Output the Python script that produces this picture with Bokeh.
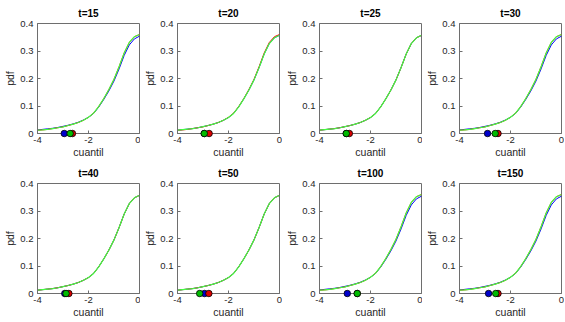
from bokeh.plotting import figure
from bokeh.layouts import gridplot
from bokeh.models import FixedTicker, Range1d
from bokeh.embed import file_html
from bokeh.resources import INLINE

# ---------------- data ----------------
titles = ["t=15", "t=20", "t=25", "t=30", "t=40", "t=50", "t=100", "t=150"]

x_vals = [-4.0, -3.8, -3.6, -3.4, -3.2, -3.0, -2.8, -2.6, -2.4, -2.2, -2.0,
          -1.8, -1.6, -1.4, -1.2, -1.0, -0.8, -0.6, -0.4, -0.2, 0.0]

curve_base = [0.012, 0.014, 0.016, 0.018, 0.021, 0.025, 0.029, 0.034, 0.040, 0.048, 0.058,
              0.073, 0.097, 0.126, 0.158, 0.195, 0.240, 0.289, 0.327, 0.348, 0.357]
curve_hi = [0.012, 0.013, 0.015, 0.018, 0.021, 0.024, 0.029, 0.034, 0.040, 0.048, 0.059,
            0.074, 0.098, 0.127, 0.160, 0.197, 0.243, 0.293, 0.331, 0.352, 0.360]
curve_lo = [0.013, 0.015, 0.017, 0.019, 0.022, 0.026, 0.030, 0.035, 0.041, 0.049, 0.059,
            0.073, 0.096, 0.124, 0.155, 0.191, 0.235, 0.284, 0.322, 0.344, 0.354]

curves = {"base": curve_base, "hi": curve_hi, "lo": curve_lo}
blue_curve = ["lo", "base", "base", "lo", "base", "base", "lo", "lo"]
red_curve = ["hi", "hi", "base", "hi", "base", "base", "hi", "hi"]
green_curve = ["hi", "base", "base", "hi", "base", "base", "hi", "hi"]

blue_pos = [-2.95, -2.95, -2.95, -2.90, -2.93, -2.94, -2.91, -2.86]
red_pos = [-2.63, -2.76, -2.83, -2.49, -2.77, -2.77, -2.52, -2.49]
green_pos = [-2.72, -2.95, -2.95, -2.60, -2.88, -3.13, -2.52, -2.58]

x_ticks = [-4, -2, 0]
x_tick_labels = ["-4", "-2", "0"]
y_ticks = [0, 0.1, 0.2, 0.3, 0.4]
y_tick_labels = ["0", "0.1", "0.2", "0.3", "0.4"]

# ---------------- style ----------------
FONT = "Liberation Sans"
AXIS_COL = "#6e6e6e"
TEXT_COL = "#262626"
BLUE, RED, GREEN = "#0000ff", "#ff0000", "#40ff40"
col_widths = [140, 142, 140, 142]
row_heights = [160, 160]
row_frame_h = [112, 113]

figs = []
for i, t in enumerate(titles):
    r, c = divmod(i, 4)
    p = figure(width=col_widths[c], height=row_heights[r],
               x_range=Range1d(-4, 0), y_range=Range1d(0, 0.4),
               output_backend="svg", toolbar_location=None, title=t,
               min_border_left=37, min_border_right=col_widths[c] - 37 - 102,
               min_border_top=21,
               min_border_bottom=row_heights[r] - 21 - row_frame_h[r])
    p.title.align = "center"
    p.title.text_font = FONT
    p.title.text_font_size = "10px"
    p.title.text_font_style = "bold"
    p.title.text_color = "#000000"
    p.title.standoff = 10
    p.title.offset = 0
    p.outline_line_color = AXIS_COL
    p.outline_line_alpha = 1
    p.grid.visible = False
    p.background_fill_color = "white"

    p.xaxis.ticker = FixedTicker(ticks=x_ticks)
    p.xaxis.major_label_overrides = dict(zip(x_ticks, x_tick_labels))
    p.yaxis.ticker = FixedTicker(ticks=y_ticks)
    p.yaxis.major_label_overrides = dict(zip(y_ticks, y_tick_labels))
    p.xaxis.axis_label = "cuantil"
    p.yaxis.axis_label = "pdf"
    for ax in (p.xaxis[0], p.yaxis[0]):
        ax.axis_line_color = AXIS_COL
        ax.major_tick_line_color = AXIS_COL
        ax.major_tick_in = 3
        ax.major_tick_out = 0
        ax.minor_tick_line_color = None
        ax.major_label_text_font = FONT
        ax.major_label_text_font_size = "9.5px"
        ax.major_label_text_color = TEXT_COL
        ax.axis_label_text_font = FONT
        ax.axis_label_text_font_size = "10.5px"
        ax.axis_label_text_font_style = "normal"
        ax.axis_label_text_color = TEXT_COL
    p.xaxis.major_label_standoff = 3
    p.xaxis.axis_label_standoff = 0
    p.yaxis.major_label_standoff = 4
    p.yaxis.axis_label_standoff = 1

    p.line(x_vals, curves[blue_curve[i]], line_color=BLUE, line_width=1)
    p.line(x_vals, curves[red_curve[i]], line_color=RED, line_width=1)
    p.line(x_vals, curves[green_curve[i]], line_color=GREEN, line_width=1.2)

    p.scatter([blue_pos[i]], [0], marker="circle", size=6.5, fill_color="#0000cc",
              line_color="black", line_width=0.8, level="overlay")
    p.scatter([red_pos[i]], [0], marker="circle", size=6.5, fill_color="#dd0000",
              line_color="black", line_width=0.8, level="overlay")
    p.scatter([green_pos[i]], [0], marker="circle", size=6.5, fill_color="#00bb00",
              line_color="black", line_width=0.8, level="overlay")
    figs.append(p)

grid = gridplot([figs[0:4], figs[4:8]], toolbar_location=None)
open("out.html", "w").write(file_html(grid, INLINE))
